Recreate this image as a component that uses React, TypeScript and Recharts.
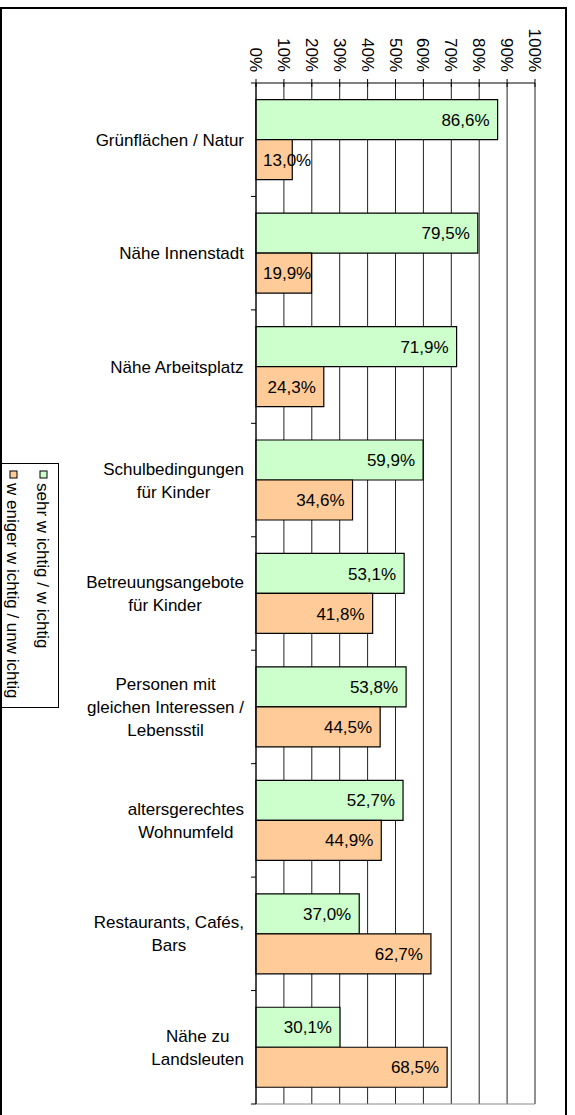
import React from 'react'
import {
  BarChart,
  Bar,
  XAxis,
  YAxis,
  CartesianGrid,
  LabelList,
} from 'recharts'

const categories = [
  'Grünflächen / Natur',
  'Nähe Innenstadt',
  'Nähe Arbeitsplatz',
  'Schulbedingungen\nfür Kinder',
  'Betreuungsangebote\nfür Kinder',
  'Personen mit\ngleichen Interessen /\nLebensstil',
  'altersgerechtes\nWohnumfeld',
  'Restaurants, Cafés,\nBars',
  'Nähe zu\nLandsleuten',
]
const sehrWichtig = [86.6, 79.5, 71.9, 59.9, 53.1, 53.8, 52.7, 37.0, 30.1]
const wenigerWichtig = [13.0, 19.9, 24.3, 34.6, 41.8, 44.5, 44.9, 62.7, 68.5]
const xTicks = [0, 10, 20, 30, 40, 50, 60, 70, 80, 90, 100]
const legendNames = ['sehr w ichtig / w ichtig', 'w eniger w ichtig / unw ichtig']

const GREEN = '#CCFFCC'
const ORANGE = '#FFCC99'
const FONT = "'Liberation Sans', Arial, sans-serif"
const FS = 17

const W = 575
const H = 1115
const TOP = 83
const BOTTOM = 11
const LEFT = 256
const RIGHT = 40
const XAXIS_H = 60
const BAND = (H - TOP - BOTTOM) / categories.length

const data = categories.map((name, i) => ({
  name,
  a: sehrWichtig[i],
  b: wenigerWichtig[i],
}))

let ctx: CanvasRenderingContext2D | null = null
const measure = (s: string) => {
  if (!ctx) ctx = document.createElement('canvas').getContext('2d')
  if (!ctx) return s.length * 9
  ctx.font = `${FS}px ${FONT}`
  return ctx.measureText(s).width
}

const fmt = (v: number) => v.toFixed(1).replace('.', ',') + '%'

const XTick = ({ x, payload }: any) => (
  <g>
    <line x1={x} x2={x} y1={TOP - 4} y2={TOP + 4} stroke="#000" />
    <text
      x={x}
      y={TOP - 11}
      transform={`rotate(90, ${x}, ${TOP - 11})`}
      textAnchor="end"
      dy="0.35em"
      fontSize={FS}
      fontFamily={FONT}
      fill="#000"
    >
      {payload.value}%
    </text>
  </g>
)

const YTick = ({ y, payload, index }: any) => {
  const lines = String(payload.value).split('\n')
  const maxW = Math.max(...lines.map(measure))
  const cx = 244 - maxW / 2
  const lh = 23
  const first = y - ((lines.length - 1) * lh) / 2 + 6
  return (
    <g>
      {index === 0 && (
        <line x1={LEFT - 5} x2={LEFT} y1={y - BAND / 2} y2={y - BAND / 2} stroke="#000" />
      )}
      <line x1={LEFT - 5} x2={LEFT} y1={y + BAND / 2} y2={y + BAND / 2} stroke="#000" />
      <text textAnchor="middle" fontSize={FS} fontFamily={FONT} fill="#000">
        {lines.map((l, i) => (
          <tspan key={i} x={cx} y={first + i * lh}>
            {l}
          </tspan>
        ))}
      </text>
    </g>
  )
}

const ValueLabel = ({ x, y, width, height, value }: any) => {
  const s = fmt(value)
  const tw = measure(s)
  const left = Math.max(x + 7, x + width - 8 - tw)
  return (
    <text
      x={left}
      y={y + height / 2}
      dy="0.36em"
      fontSize={FS}
      fontFamily={FONT}
      fill="#000"
    >
      {s}
    </text>
  )
}

const Legend = () => {
  const colors = [GREEN, ORANGE]
  const cols = [43, 13]
  return (
    <svg width={60} height={246} style={{ position: 'absolute', left: 0, top: 463 }}>
      <rect x={0.5} y={0.5} width={58} height={244} fill="#fff" stroke="#000" />
      {legendNames.map((n, i) => (
        <g key={n}>
          <rect x={cols[i] - 3} y={8} width={7} height={7} fill={colors[i]} stroke="#000" />
          <text
            x={cols[i]}
            y={20}
            transform={`rotate(90, ${cols[i]}, 20)`}
            dy="0.35em"
            fontSize={FS}
            fontFamily={FONT}
            fill="#000"
          >
            {n}
          </text>
        </g>
      ))}
    </svg>
  )
}

export default function App() {
  return (
    <div style={{ position: 'absolute', left: 0, top: 0, width: W, height: H, background: '#fff', overflow: 'hidden' }}>
      <BarChart
        width={W}
        height={H}
        data={data}
        layout="vertical"
        margin={{ top: TOP - XAXIS_H, right: RIGHT, bottom: BOTTOM - 1, left: 0 }}
        barCategoryGap="14.7%"
        barGap={0}
      >
        <CartesianGrid horizontal={false} stroke="#222" />
        <XAxis
          type="number"
          orientation="top"
          domain={[0, 100]}
          ticks={xTicks}
          interval={0}
          axisLine={{ stroke: '#000' }}
          tickLine={false}
          tick={<XTick />}
          height={XAXIS_H}
        />
        <XAxis
          xAxisId="bottom"
          type="number"
          orientation="bottom"
          domain={[0, 100]}
          axisLine={{ stroke: '#888' }}
          tickLine={false}
          tick={false}
          height={1}
        />
        <YAxis
          type="category"
          dataKey="name"
          width={LEFT}
          axisLine={{ stroke: '#000' }}
          tickLine={false}
          tick={<YTick />}
          interval={0}
        />
        <Bar dataKey="a" fill={GREEN} stroke="#000" strokeWidth={1.2} isAnimationActive={false}>
          <LabelList dataKey="a" content={<ValueLabel />} />
        </Bar>
        <Bar dataKey="b" fill={ORANGE} stroke="#000" strokeWidth={1.2} isAnimationActive={false}>
          <LabelList dataKey="b" content={<ValueLabel />} />
        </Bar>
      </BarChart>
      <Legend />
      <div style={{ position: 'absolute', left: 0, top: 7, width: 567, height: 2, background: '#000' }} />
      <div style={{ position: 'absolute', left: 0, top: 7, width: 2, height: H, background: '#000' }} />
      <div style={{ position: 'absolute', left: 565, top: 7, width: 2, height: H, background: '#000' }} />
    </div>
  )
}
